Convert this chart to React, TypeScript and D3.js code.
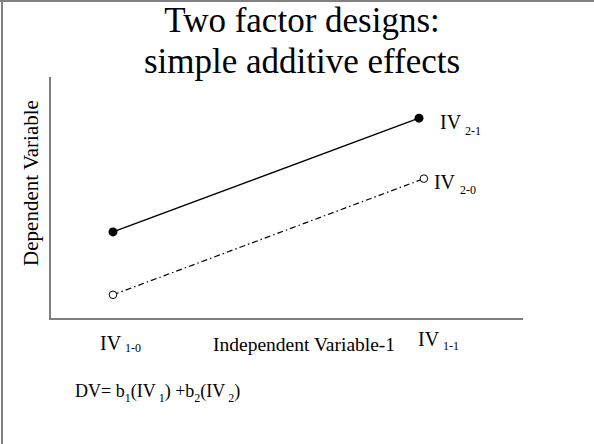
import { useEffect, useRef } from 'react';
import * as d3 from "d3";

// levels of IV1 on the x axis
const iv1Levels = ["1-0", "1-1"];
// series (levels of IV2)
const seriesNames = ["2-1", "2-0"];
const x21 = [0, 1];
const y21 = [3.6, 8.3];
const x20 = [0, 1.016];
const y20 = [1.0, 5.8];

const SERIF = "'Liberation Serif', 'Times New Roman', serif";

export default function App() {
  const ref = useRef<SVGSVGElement>(null);

  useEffect(() => {
    if (!ref.current) return;
    const svg = d3.select(ref.current);
    svg.selectAll("*").remove();

    const width = 594;
    const height = 444;

    svg.append("rect").attr("width", width).attr("height", height).attr("fill", "white");

    // slide border (top + left)
    svg.append("line").attr("x1", 0).attr("x2", width).attr("y1", 1).attr("y2", 1)
      .attr("stroke", "#808080").attr("stroke-width", 2);
    svg.append("line").attr("x1", 2).attr("x2", 2).attr("y1", 0).attr("y2", height)
      .attr("stroke", "#808080").attr("stroke-width", 2);

    // title
    const title = svg.append("text")
      .attr("text-anchor", "middle")
      .style("font-family", SERIF)
      .style("font-size", "35px")
      .attr("fill", "black");
    title.append("tspan").attr("x", 302).attr("y", 32).text("Two factor designs:");
    title.append("tspan").attr("x", 302).attr("y", 73).text("simple additive effects");

    const x = d3.scaleLinear().domain([0, 1]).range([113, 419]);
    const y = d3.scaleLinear().domain([0, 10]).range([319, 77]);

    // axes
    const axisLeft = 50;
    const axisRight = 523;
    svg.append("line")
      .attr("x1", axisLeft).attr("x2", axisLeft)
      .attr("y1", y(10)).attr("y2", y(0) + 1)
      .attr("stroke", "#7f7f7f").attr("stroke-width", 2);
    svg.append("line")
      .attr("x1", axisLeft - 1).attr("x2", axisRight)
      .attr("y1", y(0)).attr("y2", y(0))
      .attr("stroke", "#7f7f7f").attr("stroke-width", 2);

    // y label
    svg.append("text")
      .attr("transform", `translate(38,183) rotate(-90)`)
      .attr("text-anchor", "middle")
      .style("font-family", SERIF)
      .style("font-size", "21px")
      .text("Dependent Variable");

    const line = d3.line<[number, number]>().x(d => x(d[0])).y(d => y(d[1]));

    const pts21: [number, number][] = x21.map((v, i) => [v, y21[i]]);
    const pts20: [number, number][] = x20.map((v, i) => [v, y20[i]]);

    svg.append("path").attr("d", line(pts21)!)
      .attr("fill", "none").attr("stroke", "black").attr("stroke-width", 1.5);
    svg.append("path").attr("d", line(pts20)!)
      .attr("fill", "none").attr("stroke", "black").attr("stroke-width", 1.2)
      .attr("stroke-dasharray", "6,3,1.5,3");

    svg.selectAll(".dot21").data(pts21).join("circle")
      .attr("cx", d => x(d[0])).attr("cy", d => y(d[1])).attr("r", 4.5)
      .attr("fill", "black");
    svg.selectAll(".dot20").data(pts20).join("circle")
      .attr("cx", d => x(d[0])).attr("cy", d => y(d[1])).attr("r", 3.8)
      .attr("fill", "white").attr("stroke", "black").attr("stroke-width", 1);

    // helper for "IV" + subscript labels
    const ivLabel = (px: number, py: number, sub: string, subGap: number, subDrop: number) => {
      const t = svg.append("text")
        .attr("x", px).attr("y", py)
        .style("font-family", SERIF)
        .style("font-size", "20px");
      t.append("tspan").text("IV");
      t.append("tspan").attr("dx", subGap).attr("dy", subDrop)
        .style("font-size", "12px").text(sub);
    };

    // series labels
    ivLabel(x(x21[1]) + 21, y(y21[1]) + 11, seriesNames[0], 4, 6);
    ivLabel(x(x20[1]) + 10, y(y20[1]) + 10, seriesNames[1], 5, 5);

    // x level labels
    ivLabel(x(0) - 13, 350, iv1Levels[0], 4, 2);
    ivLabel(x(1) - 1, 346, iv1Levels[1], 4, 4);

    svg.append("text")
      .attr("x", 213).attr("y", 351)
      .style("font-family", SERIF)
      .style("font-size", "19.5px")
      .text("Independent Variable-1");

    // formula
    const f = svg.append("text")
      .attr("x", 75).attr("y", 397)
      .style("font-family", SERIF)
      .style("font-size", "18px");
    const sub = (s: string, dx = 0) =>
      f.append("tspan").attr("dx", dx).attr("dy", 5).style("font-size", "12px").text(s);
    const main = (s: string) => f.append("tspan").attr("dy", -5).text(s);
    f.append("tspan").text("DV= b");
    sub("1");
    main("(IV");
    sub("1", 3);
    main(") +b");
    sub("2");
    main("(IV");
    sub("2", 3);
    main(")");
  }, []);

  return (
    <div style={{ position: "absolute", left: 0, top: 0 }}>
      <svg ref={ref} width={594} height={444}></svg>
    </div>
  );
}
